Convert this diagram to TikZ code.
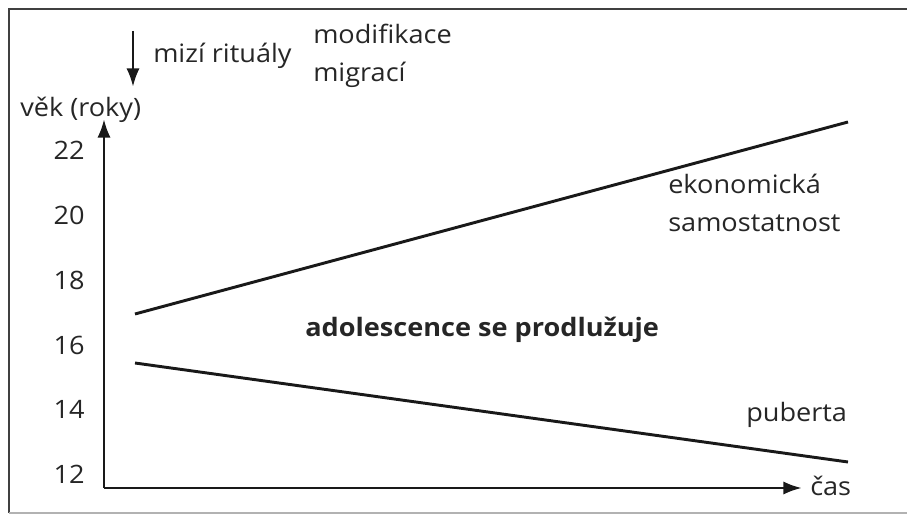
\documentclass[tikz,border=0pt]{standalone}
\usepackage{fontspec}
\setmainfont{Open Sans}[FakeStretch=1.07]
\usetikzlibrary{positioning, arrows.meta}
\begin{document}
\begin{tikzpicture}
	[
	x=0.75pt, y=-0.75pt, font=\fontsize{19}{29}\selectfont, >=latex,
	%Voreinstellungen
	linie/.style={line width=2.2pt, black!90},
	achse/.style={-{Latex[length=14pt, width=10pt]}, line width=2.2pt, black!90},
	popis/.style={anchor=base west, inner sep=0pt, text=black!85},
	cislo/.style={anchor=east, inner sep=0pt, text=black!85}
	]
	\useasboundingbox (0,0) rectangle (907,516);
	%Rahmen
	\draw[line width=2.2pt, black!75] (907,9) -- (9,9) -- (9,513);
	\draw[line width=2pt, black!30] (9,513) -- (907,513);
	%Achsen
	\coordinate (o) at (104,488);
	\coordinate (yend) at (104,119);
	\coordinate (xend) at (802,488);
	\draw[achse] (o) -- (yend);
	\draw[achse] (o) -- (xend);
	\node[popis] (cas) at (810,495) {čas};
	\node[popis] (vek) at (20,117) {věk (roky)};
	\foreach \w/\y in {22/150, 20/215, 18/280, 16/345, 14/409, 12/474}
		\node[cislo] (t\w) at (85,\y) {\w};
	%Verlauf
	\coordinate (ekoA) at (135,314);
	\coordinate (ekoB) at (848,122);
	\coordinate (pubA) at (135,363);
	\coordinate (pubB) at (848,462);
	\draw[linie] (ekoA) -- (ekoB);
	\draw[linie] (pubA) -- (pubB);
	\node[popis, align=left] (eko) at (668,232) {ekonomická\\samostatnost};
	\node[popis] (pub) at (746,422) {puberta};
	\node[popis, font=\fontsize{19}{29}\selectfont\bfseries] (adol) at (305,337) {adolescence se prodlužuje};
	%oben
	\coordinate (pfA) at (133,31);
	\coordinate (pfB) at (133,87);
	\draw[achse] (pfA) -- (pfB);
	\node[popis] (rit) at (153,63) {mizí rituály};
	\node[popis, align=left] (mig) at (313,82) {modifikace\\migrací};
\end{tikzpicture}
\end{document}
